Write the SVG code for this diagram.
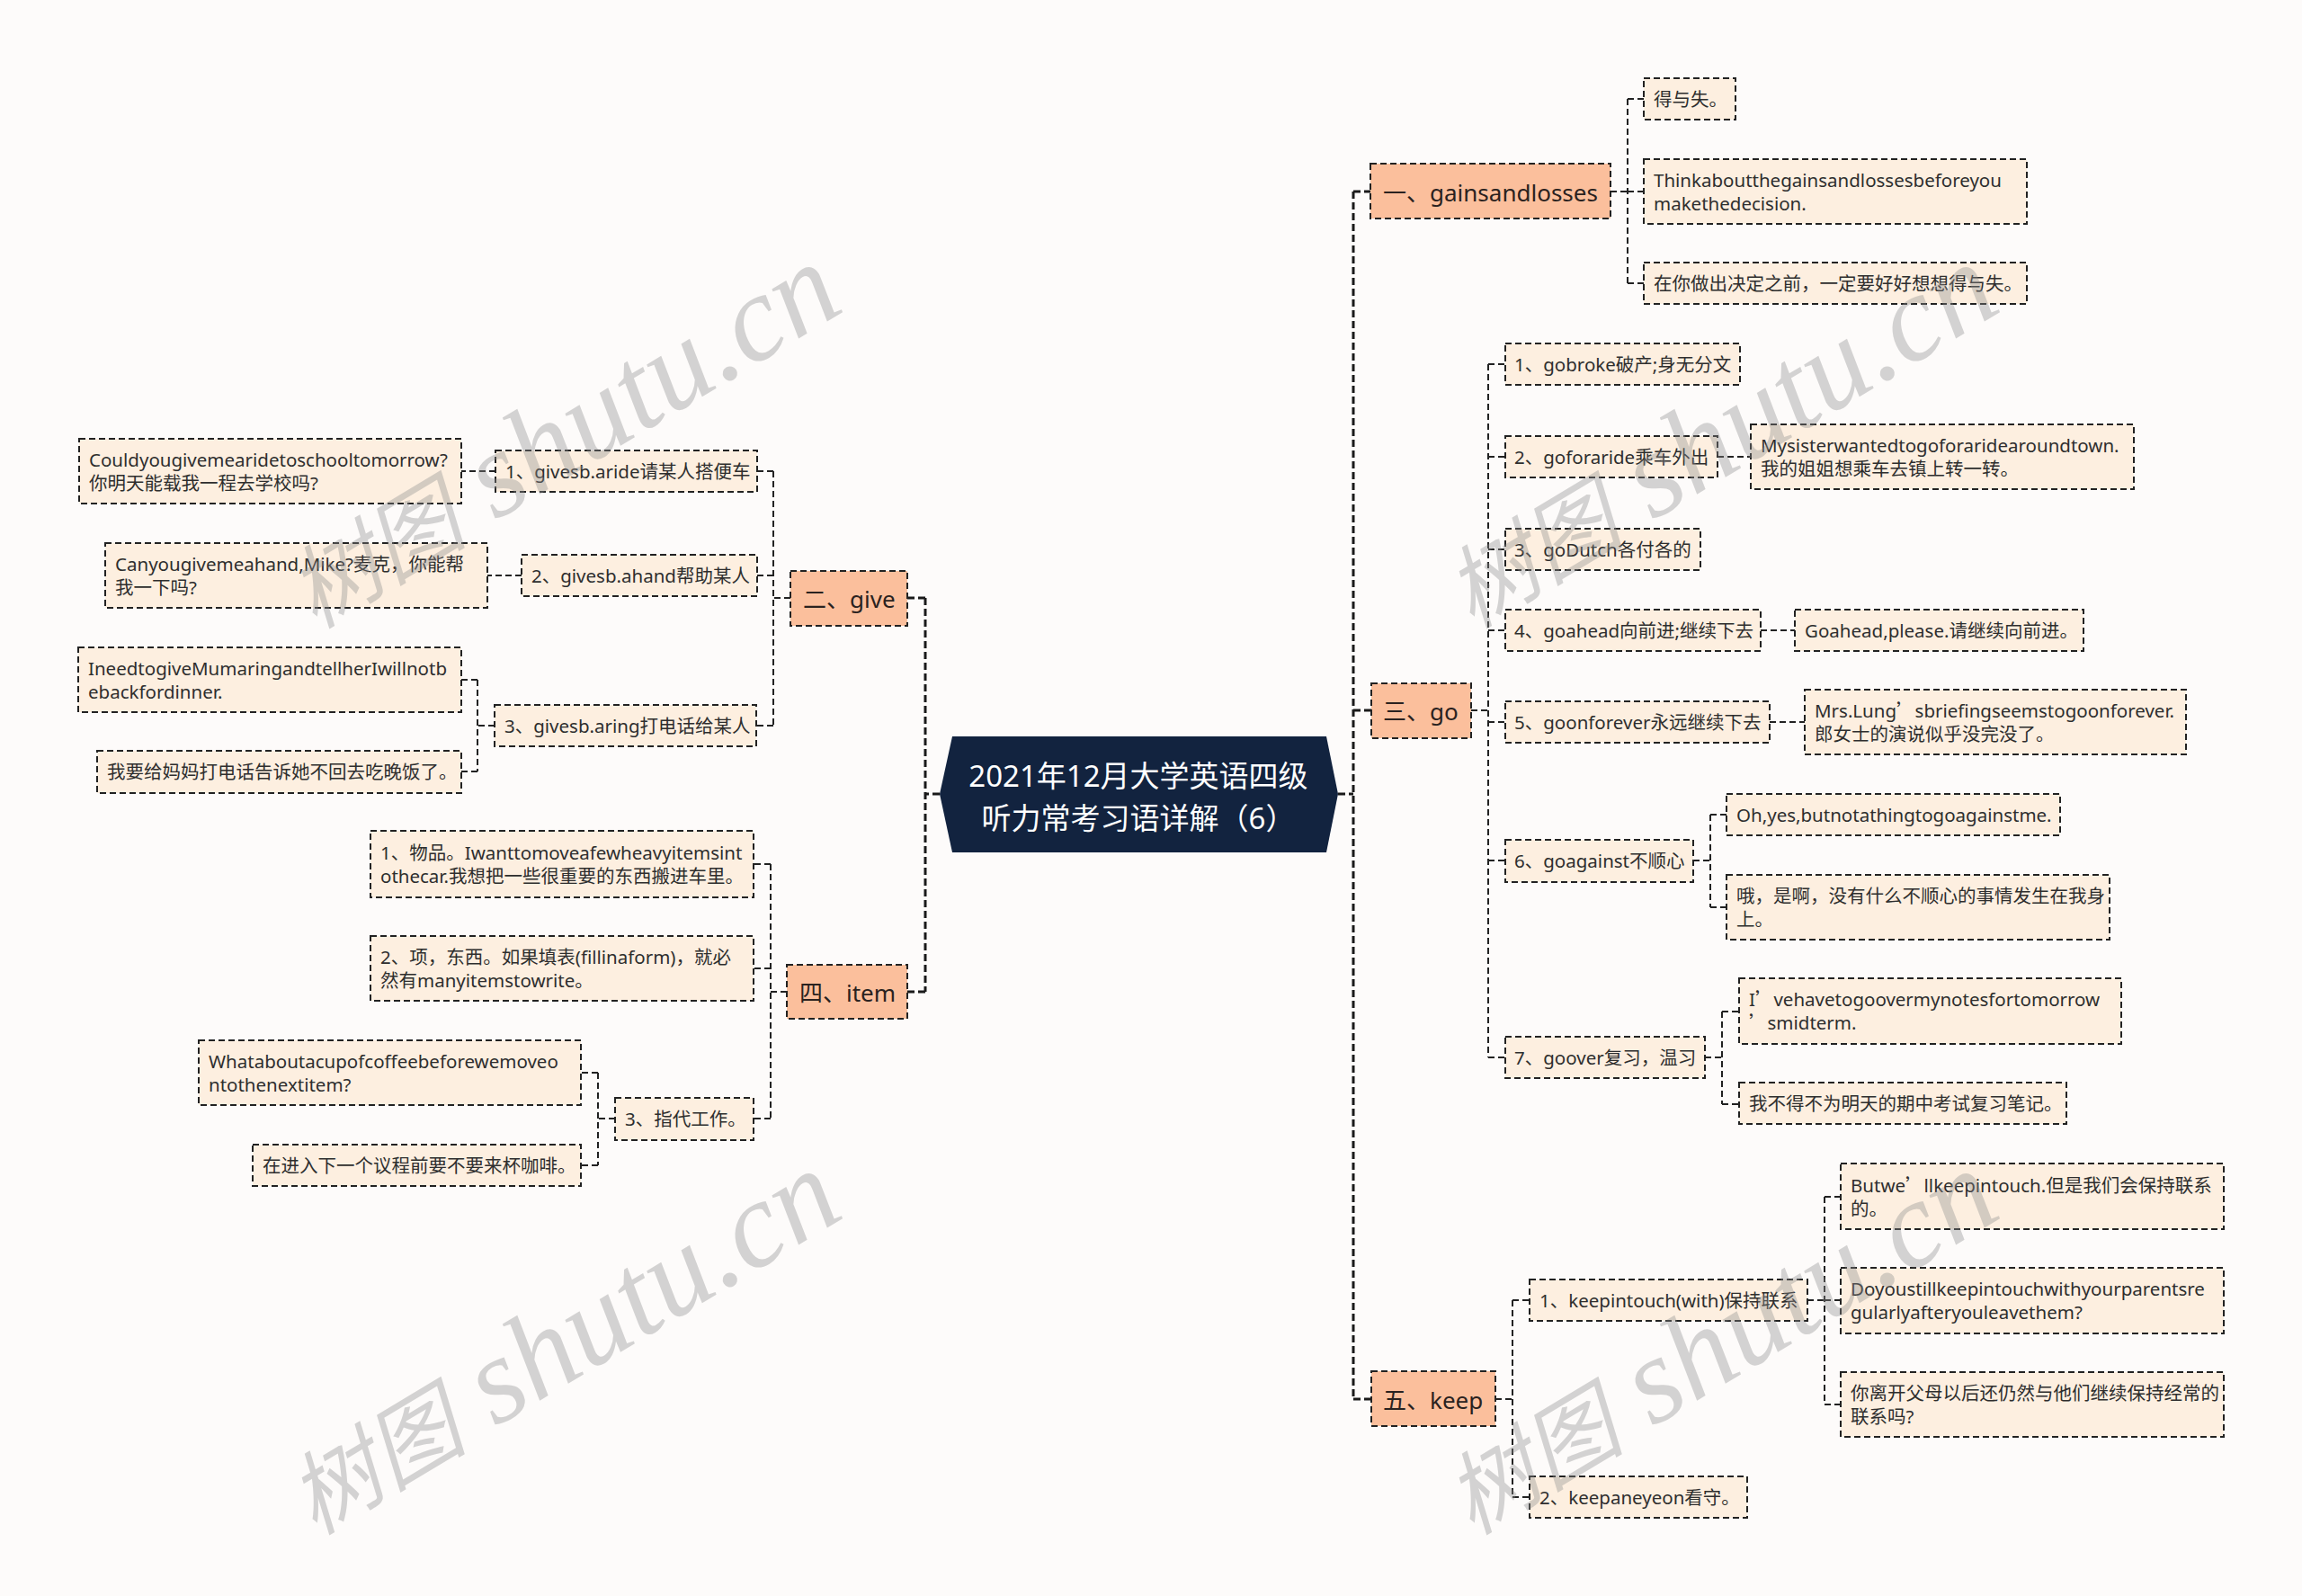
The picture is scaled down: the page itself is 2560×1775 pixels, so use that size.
<svg xmlns="http://www.w3.org/2000/svg" width="2560" height="1775" viewBox="0 0 2560 1775">
<style>
.bg{fill:#fdfbfa}
.n1{fill:#fbbf9c;stroke:#222;stroke-width:2;stroke-dasharray:7 4}
.n2{fill:#fdefe0;stroke:#222;stroke-width:2;stroke-dasharray:7 4}
.t{font-family:"Noto Sans","Noto Sans CJK SC",sans-serif;font-size:20.5px;fill:#2e2e2e}
.t1{font-family:"Noto Sans","Noto Sans CJK SC",sans-serif;font-size:26px;fill:#2a2220}
.tt{font-family:"Noto Sans","Noto Sans CJK SC",sans-serif;font-size:33px;fill:#ffffff;text-anchor:middle}
.q{font-family:"Noto Sans CJK SC",sans-serif}
.c{fill:none;stroke:#222;stroke-width:2;stroke-dasharray:7 4}
.c0{fill:none;stroke:#1a1a1a;stroke-width:3;stroke-dasharray:8 4}
.wm{font-style:italic;fill:#8c8c8c;opacity:0.36}
</style>
<rect class="bg" x="0" y="0" width="2560" height="1775"/>

<g id="connectors">
  <path class="c0" d="M1488 883H1505M1505 213V1556M1505 213H1524M1505 790H1525M1505 1556H1525"/>
  <path class="c0" d="M1045 883H1029M1029 665V1103M1029 665H1009M1029 1103H1009"/>
  <path class="c" d="M1791 213H1810M1810 110V315M1810 110H1828M1810 213H1828M1810 315H1828"/>
  <path class="c" d="M1636 790H1655M1655 405V1176M1655 405H1674M1655 508H1674M1655 611H1674M1655 701H1674M1655 803H1674M1655 957H1674M1655 1176H1674"/>
  <path class="c" d="M1910 508H1947M1958 701H1996M1968 803H2007"/>
  <path class="c" d="M1883 957H1902M1902 906V1009M1902 906H1920M1902 1009H1920"/>
  <path class="c" d="M1896 1176H1915M1915 1125V1228M1915 1125H1934M1915 1228H1934"/>
  <path class="c" d="M1663 1556H1682M1682 1446V1665M1682 1446H1701M1682 1665H1701"/>
  <path class="c" d="M2010 1446H2029M2029 1331V1562M2029 1331H2047M2029 1446H2047M2029 1562H2047"/>
  <path class="c" d="M879 665H860M860 524V807M860 524H842M860 640H842M860 807H841"/>
  <path class="c" d="M551 524H513M580 640H542M550 807H531M531 756V858M531 756H513M531 858H513"/>
  <path class="c" d="M875 1103H857M857 961V1244M857 961H838M857 1077H838M857 1244H838"/>
  <path class="c" d="M684 1244H665M665 1193V1296M665 1193H646M665 1296H646"/>
</g>

<g id="root">
  <polygon points="1059,819 1475,819 1488,883 1475,948 1059,948 1045,883" fill="#12233f"/>
  <text class="tt"><tspan x="1266" y="875">2021年12月大学英语四级</tspan><tspan x="1266" y="922">听力常考习语详解（6）</tspan></text>
</g>

<g id="n-gains">
  <rect class="n1" x="1524" y="182" width="267" height="61"/>
  <text class="t1" x="1538" y="224">一、gainsandlosses</text>
</g>
<g id="n-gains-1">
  <rect class="n2" x="1828" y="87" width="102" height="46"/>
  <text class="t" x="1839" y="118">得与失。</text>
</g>
<g id="n-gains-2">
  <rect class="n2" x="1828" y="177" width="426" height="72"/>
  <text class="t"><tspan x="1839" y="208">Thinkaboutthegainsandlossesbeforeyou</tspan><tspan x="1839" y="234">makethedecision.</tspan></text>
</g>
<g id="n-gains-3">
  <rect class="n2" x="1828" y="292" width="426" height="46"/>
  <text class="t" x="1839" y="323">在你做出决定之前，一定要好好想想得与失。</text>
</g>

<g id="n-go">
  <rect class="n1" x="1525" y="760" width="111" height="61"/>
  <text class="t1" x="1538" y="801">三、go</text>
</g>
<g id="n-go-1">
  <rect class="n2" x="1674" y="382" width="261" height="46"/>
  <text class="t" x="1684" y="413">1、gobroke破产;身无分文</text>
</g>
<g id="n-go-2">
  <rect class="n2" x="1674" y="485" width="236" height="46"/>
  <text class="t" x="1684" y="516">2、goforaride乘车外出</text>
</g>
<g id="n-go-2a">
  <rect class="n2" x="1947" y="472" width="426" height="72"/>
  <text class="t"><tspan x="1958" y="503">Mysisterwantedtogoforaridearoundtown.</tspan><tspan x="1958" y="529">我的姐姐想乘车去镇上转一转。</tspan></text>
</g>
<g id="n-go-3">
  <rect class="n2" x="1674" y="588" width="217" height="46"/>
  <text class="t" x="1684" y="619">3、goDutch各付各的</text>
</g>
<g id="n-go-4">
  <rect class="n2" x="1674" y="678" width="284" height="46"/>
  <text class="t" x="1684" y="709">4、goahead向前进;继续下去</text>
</g>
<g id="n-go-4a">
  <rect class="n2" x="1996" y="678" width="321" height="46"/>
  <text class="t" x="2007" y="709">Goahead,please.请继续向前进。</text>
</g>
<g id="n-go-5">
  <rect class="n2" x="1674" y="780" width="294" height="46"/>
  <text class="t" x="1684" y="811">5、goonforever永远继续下去</text>
</g>
<g id="n-go-5a">
  <rect class="n2" x="2007" y="767" width="424" height="72"/>
  <text class="t"><tspan x="2018" y="798">Mrs.Lung<tspan class="q">’</tspan>sbriefingseemstogoonforever.</tspan><tspan x="2018" y="824">郎女士的演说似乎没完没了。</tspan></text>
</g>
<g id="n-go-6">
  <rect class="n2" x="1674" y="934" width="209" height="47"/>
  <text class="t" x="1684" y="965">6、goagainst不顺心</text>
</g>
<g id="n-go-6a">
  <rect class="n2" x="1920" y="883" width="371" height="46"/>
  <text class="t" x="1931" y="914">Oh,yes,butnotathingtogoagainstme.</text>
</g>
<g id="n-go-6b">
  <rect class="n2" x="1920" y="973" width="426" height="72"/>
  <text class="t"><tspan x="1931" y="1004">哦，是啊，没有什么不顺心的事情发生在我身</tspan><tspan x="1931" y="1030">上。</tspan></text>
</g>
<g id="n-go-7">
  <rect class="n2" x="1674" y="1153" width="222" height="46"/>
  <text class="t" x="1684" y="1184">7、goover复习，温习</text>
</g>
<g id="n-go-7a">
  <rect class="n2" x="1934" y="1088" width="425" height="73"/>
  <text class="t"><tspan x="1945" y="1119">I<tspan class="q">’</tspan>vehavetogoovermynotesfortomorrow</tspan><tspan x="1945" y="1145"><tspan class="q">’</tspan>smidterm.</tspan></text>
</g>
<g id="n-go-7b">
  <rect class="n2" x="1934" y="1204" width="364" height="46"/>
  <text class="t" x="1945" y="1235">我不得不为明天的期中考试复习笔记。</text>
</g>

<g id="n-keep">
  <rect class="n1" x="1525" y="1525" width="138" height="61"/>
  <text class="t1" x="1538" y="1567">五、keep</text>
</g>
<g id="n-keep-1">
  <rect class="n2" x="1701" y="1423" width="309" height="46"/>
  <text class="t" x="1712" y="1454">1、keepintouch(with)保持联系</text>
</g>
<g id="n-keep-1a">
  <rect class="n2" x="2047" y="1294" width="426" height="73"/>
  <text class="t"><tspan x="2058" y="1326">Butwe<tspan class="q">’</tspan>llkeepintouch.但是我们会保持联系</tspan><tspan x="2058" y="1352">的。</tspan></text>
</g>
<g id="n-keep-1b">
  <rect class="n2" x="2047" y="1410" width="426" height="73"/>
  <text class="t"><tspan x="2058" y="1441">Doyoustillkeepintouchwithyourparentsre</tspan><tspan x="2058" y="1467">gularlyafteryouleavethem?</tspan></text>
</g>
<g id="n-keep-1c">
  <rect class="n2" x="2047" y="1526" width="426" height="72"/>
  <text class="t"><tspan x="2058" y="1557">你离开父母以后还仍然与他们继续保持经常的</tspan><tspan x="2058" y="1583">联系吗?</tspan></text>
</g>
<g id="n-keep-2">
  <rect class="n2" x="1701" y="1642" width="242" height="46"/>
  <text class="t" x="1712" y="1673">2、keepaneyeon看守。</text>
</g>

<g id="n-give">
  <rect class="n1" x="879" y="635" width="130" height="61"/>
  <text class="t1" x="893" y="676">二、give</text>
</g>
<g id="n-give-1">
  <rect class="n2" x="551" y="501" width="291" height="46"/>
  <text class="t" x="562" y="532">1、givesb.aride请某人搭便车</text>
</g>
<g id="n-give-1a">
  <rect class="n2" x="88" y="488" width="425" height="72"/>
  <text class="t"><tspan x="99" y="519">Couldyougivemearidetoschooltomorrow?</tspan><tspan x="99" y="545">你明天能载我一程去学校吗?</tspan></text>
</g>
<g id="n-give-2">
  <rect class="n2" x="580" y="617" width="262" height="46"/>
  <text class="t" x="591" y="648">2、givesb.ahand帮助某人</text>
</g>
<g id="n-give-2a">
  <rect class="n2" x="117" y="604" width="425" height="72"/>
  <text class="t"><tspan x="128" y="635">Canyougivemeahand,Mike?麦克，你能帮</tspan><tspan x="128" y="661">我一下吗?</tspan></text>
</g>
<g id="n-give-3">
  <rect class="n2" x="550" y="784" width="291" height="46"/>
  <text class="t" x="561" y="815">3、givesb.aring打电话给某人</text>
</g>
<g id="n-give-3a">
  <rect class="n2" x="87" y="720" width="426" height="72"/>
  <text class="t"><tspan x="98" y="751">IneedtogiveMumaringandtellherIwillnotb</tspan><tspan x="98" y="777">ebackfordinner.</tspan></text>
</g>
<g id="n-give-3b">
  <rect class="n2" x="108" y="835" width="405" height="47"/>
  <text class="t" x="119" y="866">我要给妈妈打电话告诉她不回去吃晚饭了。</text>
</g>

<g id="n-item">
  <rect class="n1" x="875" y="1073" width="134" height="60"/>
  <text class="t1" x="889" y="1114">四、item</text>
</g>
<g id="n-item-1">
  <rect class="n2" x="412" y="924" width="426" height="74"/>
  <text class="t"><tspan x="423" y="956">1、物品。Iwanttomoveafewheavyitemsint</tspan><tspan x="423" y="982">othecar.我想把一些很重要的东西搬进车里。</tspan></text>
</g>
<g id="n-item-2">
  <rect class="n2" x="412" y="1041" width="426" height="72"/>
  <text class="t"><tspan x="423" y="1072">2、项，东西。如果填表(fillinaform)，就必</tspan><tspan x="423" y="1098">然有manyitemstowrite。</tspan></text>
</g>
<g id="n-item-3">
  <rect class="n2" x="684" y="1221" width="154" height="47"/>
  <text class="t" x="695" y="1252">3、指代工作。</text>
</g>
<g id="n-item-3a">
  <rect class="n2" x="221" y="1157" width="425" height="72"/>
  <text class="t"><tspan x="232" y="1188">Whataboutacupofcoffeebeforewemoveo</tspan><tspan x="232" y="1214">ntothenextitem?</tspan></text>
</g>
<g id="n-item-3b">
  <rect class="n2" x="281" y="1273" width="365" height="46"/>
  <text class="t" x="292" y="1304">在进入下一个议程前要不要来杯咖啡。</text>
</g>

<g id="watermarks">
  <text class="wm" transform="translate(350 700) rotate(-31)"><tspan font-family="Noto Sans CJK SC,sans-serif" font-size="100">树图</tspan><tspan font-family="Liberation Serif,serif" font-size="136"> shutu.cn</tspan></text>
  <text class="wm" transform="translate(1637 700) rotate(-31)"><tspan font-family="Noto Sans CJK SC,sans-serif" font-size="100">树图</tspan><tspan font-family="Liberation Serif,serif" font-size="136"> shutu.cn</tspan></text>
  <text class="wm" transform="translate(350 1708) rotate(-31)"><tspan font-family="Noto Sans CJK SC,sans-serif" font-size="100">树图</tspan><tspan font-family="Liberation Serif,serif" font-size="136"> shutu.cn</tspan></text>
  <text class="wm" transform="translate(1637 1708) rotate(-31)"><tspan font-family="Noto Sans CJK SC,sans-serif" font-size="100">树图</tspan><tspan font-family="Liberation Serif,serif" font-size="136"> shutu.cn</tspan></text>
</g>
</svg>
